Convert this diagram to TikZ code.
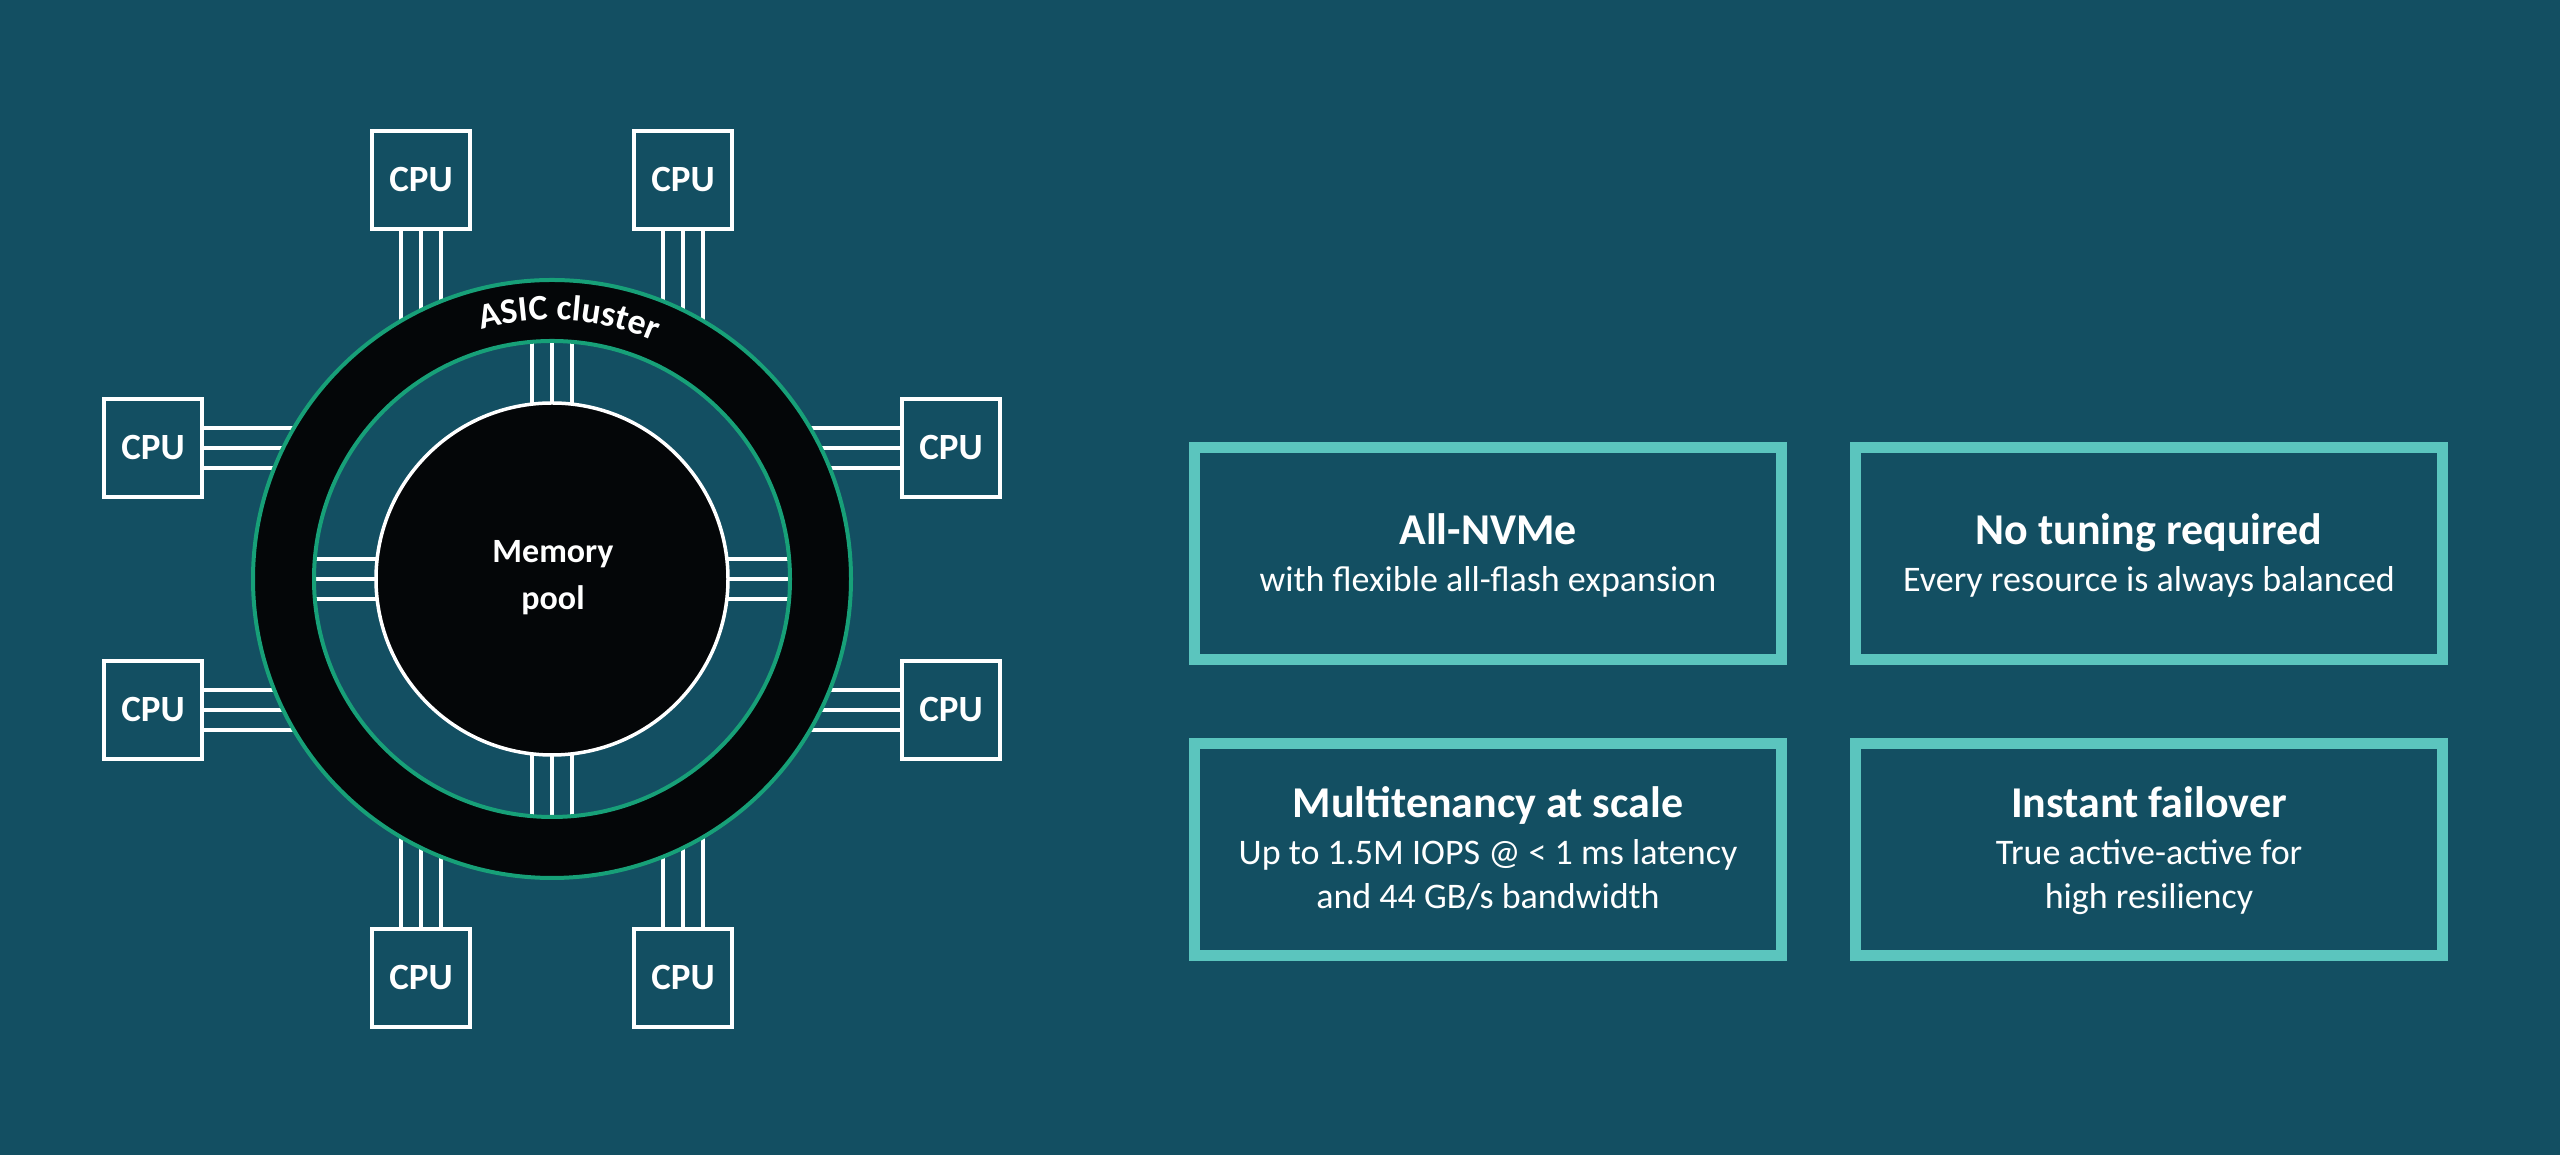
\documentclass[tikz,border=0pt]{standalone}
\usepackage{fontspec}
\setmainfont{Carlito}
\usetikzlibrary{calc,decorations.text}
\definecolor{bg}{HTML}{134F62}
\definecolor{ringblack}{HTML}{040608}
\definecolor{ringgreen}{HTML}{17A078}
\definecolor{turq}{HTML}{5BC5BE}
\newcommand{\cpufont}{\fontsize{37}{40}\selectfont\bfseries}
\newcommand{\asicfont}{\fontsize{36}{38}\selectfont\bfseries}
\newcommand{\memfont}{\fontsize{34}{36}\selectfont\bfseries}
\newcommand{\titlefont}{\fontsize{44}{48}\selectfont\bfseries}
\newcommand{\subfont}{\fontsize{36}{40}\selectfont}
\begin{document}
\begin{tikzpicture}[x=1pt,y=1pt,
  wire/.style={draw=white,line width=4pt},
  cpubox/.style={draw=white,line width=4pt,fill=bg,minimum width=98pt,minimum height=98pt,inner sep=0pt,text=white,font=\cpufont},
  featbox/.style={draw=turq,line width=11pt,minimum width=587pt,minimum height=212pt,inner sep=0pt},
  ftitle/.style={anchor=base,text=white,font=\titlefont,inner sep=0pt},
  fsub/.style={anchor=base,text=white,font=\subfont,inner sep=0pt}]
\fill[bg] (0,0) rectangle (2560,1155);
\useasboundingbox (0,0) rectangle (2560,1155);
\coordinate (c) at (552,576);
\path (421,975) coordinate (pTL) (683,975) coordinate (pTR)
      (421,177) coordinate (pBL) (683,177) coordinate (pBR)
      (153,707) coordinate (pLT) (153,445) coordinate (pLB)
      (951,707) coordinate (pRT) (951,445) coordinate (pRB);
% outer wires
\foreach \p in {pTL,pTR}{\foreach \d in {-20,0,20}{\draw[wire] ($(\p)+(\d,-49)$) -- ++(0,-126);}}
\foreach \p in {pBL,pBR}{\foreach \d in {-20,0,20}{\draw[wire] ($(\p)+(\d,49)$) -- ++(0,126);}}
\foreach \p in {pLT,pLB}{\foreach \d in {-20,0,20}{\draw[wire] ($(\p)+(49,\d)$) -- ++(126,0);}}
\foreach \p in {pRT,pRB}{\foreach \d in {-20,0,20}{\draw[wire] ($(\p)+(-49,\d)$) -- ++(-126,0);}}
% inner spokes
\foreach \d in {-20,0,20}{
  \draw[wire] ($(c)+(\d,160)$) -- ++(0,90);
  \draw[wire] ($(c)+(\d,-160)$) -- ++(0,-90);
  \draw[wire] ($(c)+(160,\d)$) -- ++(90,0);
  \draw[wire] ($(c)+(-160,\d)$) -- ++(-90,0);
}
% ring
\fill[ringblack,even odd rule] (c) circle[radius=299] (c) circle[radius=238];
\draw[ringgreen,line width=4pt] (c) circle[radius=299];
\draw[ringgreen,line width=4pt] (c) circle[radius=238];
% ASIC cluster label
\path[decorate,decoration={text along path,text={|\asicfont|ASIC cluster},text align=center,text color=white}]
  ($(c)+(146.2:259)$) arc[start angle=146.2,end angle=26.2,radius=259];
% memory pool
\node[circle,fill=ringblack,draw=white,line width=3.5pt,minimum size=352pt,inner sep=0pt] (mem) at (c) {};
\node[anchor=base,text=white,font=\memfont,inner sep=0pt] (memt1) at (553,592) {Memory};
\node[anchor=base,text=white,font=\memfont,inner sep=0pt] (memt2) at (553,545) {pool};
% CPU nodes
\node[cpubox] (cpuTL) at (pTL) {CPU};
\node[cpubox] (cpuTR) at (pTR) {CPU};
\node[cpubox] (cpuBL) at (pBL) {CPU};
\node[cpubox] (cpuBR) at (pBR) {CPU};
\node[cpubox] (cpuLT) at (pLT) {CPU};
\node[cpubox] (cpuLB) at (pLB) {CPU};
\node[cpubox] (cpuRT) at (pRT) {CPU};
\node[cpubox] (cpuRB) at (pRB) {CPU};
% feature boxes
\node[featbox] (f1) at (1488,601.5) {};
\node[featbox] (f2) at (2149,601.5) {};
\node[featbox] (f3) at (1488,305) {};
\node[featbox] (f4) at (2149,305) {};
\node[ftitle] (f1t) at ($(f1.center)+(0,8.5)$) {All-NVMe};
\node[fsub] (f1s) at ($(f1.center)+(0,-38.5)$) {with flexible all-flash expansion};
\node[ftitle] (f2t) at ($(f2.center)+(0,8.5)$) {No tuning required};
\node[fsub] (f2s) at ($(f2.center)+(0,-38.5)$) {Every resource is always balanced};
\node[ftitle] (f3t) at ($(f3.center)+(0,32.5)$) {Multitenancy at scale};
\node[fsub] (f3s1) at ($(f3.center)+(0,-15)$) {Up to 1.5M IOPS @ < 1 ms latency};
\node[fsub] (f3s2) at ($(f3.center)+(0,-59)$) {and 44 GB/s bandwidth};
\node[ftitle] (f4t) at ($(f4.center)+(0,32.5)$) {Instant failover};
\node[fsub] (f4s1) at ($(f4.center)+(0,-15)$) {True active-active for};
\node[fsub] (f4s2) at ($(f4.center)+(0,-59)$) {high resiliency};
\end{tikzpicture}
\end{document}
